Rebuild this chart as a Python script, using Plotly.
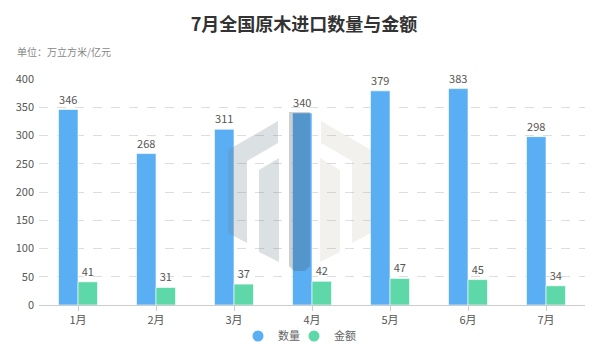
import plotly.graph_objects as go

months = ["1月", "2月", "3月", "4月", "5月", "6月", "7月"]
quantity = [346, 268, 311, 340, 379, 383, 298]
amount = [41, 31, 37, 42, 47, 45, 34]
series_names = ["数量", "金额"]
colors = ["#5aaef3", "#5fd8a9"]

# the page body has an 8px margin, so the figure is drawn 8px smaller and
# target window coordinates are shifted by -8
OFF = 8
W, H = 600 - OFF, 364 - OFF
L, R, T, B = 39 - OFF, 15, 79 - OFF, 59
PW, PH = W - L - R, H - T - B

def px(x, y):
    return (x - OFF - L) / PW, (H - B - (y - OFF)) / PH

def path(points):
    pts = [px(x, y) for x, y in points]
    return "M " + " L ".join(f"{a:.4f},{b:.4f}" for a, b in pts) + " Z"

fig = go.Figure()
for name, vals, c in zip(series_names, [quantity, amount], colors):
    fig.add_trace(go.Bar(
        x=months, y=vals, name=name,
        marker=dict(color=c, line=dict(color="rgba(255,255,255,0.6)", width=1)),
        text=[str(v) for v in vals], textposition="outside",
        textfont=dict(size=11, color="#555"), cliponaxis=False, showlegend=False,
    ))
for i, (name, c) in enumerate(zip(series_names, colors)):
    fig.add_trace(go.Scatter(x=[None], y=[None], mode="markers", name=name,
                             legend="legend" if i == 0 else "legend2",
                             marker=dict(symbol="circle", size=11, color=c)))

# watermark logo (decoration)
wm_left = "rgba(110,130,145,0.25)"
wm_right = "rgba(180,170,150,0.17)"
wm_mid = "rgba(70,85,100,0.28)"
shapes = []
left_outer = [(228, 150), (278, 121), (278, 143), (247, 161), (247, 243), (228, 233)]
left_inner = [(259, 170), (279, 158), (279, 262), (259, 252)]
mid = [(289, 112), (310, 112), (310, 266), (305, 271), (294, 271), (289, 266)]
for poly, col in [(left_outer, wm_left), (left_inner, wm_left), (mid, wm_mid),
                  ([(599 - x, y) for x, y in left_outer], wm_right),
                  ([(599 - x, y) for x, y in left_inner], wm_right)]:
    shapes.append(dict(type="path", xref="paper", yref="paper", path=path(poly),
                       fillcolor=col, line=dict(width=0), layer="above"))

sx, sy = px(15, 52)
leg_common = dict(orientation="h", xref="container", yref="container", xanchor="left",
                  yanchor="middle", y=1 - (336 - OFF) / H, font=dict(size=11, color="#666"),
                  itemwidth=30, bgcolor="rgba(0,0,0,0)")
fig.update_layout(
    width=W, height=H,
    paper_bgcolor="white", plot_bgcolor="white",
    font=dict(family="Noto Sans CJK SC, sans-serif", color="#666", size=11),
    title=dict(text="<b>7月全国原木进口数量与金额</b>", x=0.5, xanchor="center",
               xref="container", yref="container", y=1 - (25 - OFF) / H, yanchor="middle",
               font=dict(size=18, color="#333")),
    margin=dict(l=L, r=R, t=T, b=B, autoexpand=False),
    barmode="group", bargap=0.5, bargroupgap=0,
    legend=dict(x=(258 - OFF - 20) / W, **leg_common),
    legend2=dict(x=(314 - OFF - 20) / W, **leg_common),
    shapes=shapes,
    annotations=[dict(text="单位：万立方米/亿元", xref="paper", yref="paper", x=sx, y=sy,
                      xanchor="left", yanchor="middle", showarrow=False,
                      font=dict(size=10, color="#888"))],
)
fig.update_xaxes(showline=True, linecolor="#ccc", linewidth=1, ticks="outside", ticklen=5,
                 tickcolor="#ccc", tickfont=dict(size=11, color="#555"))
fig.update_yaxes(range=[0, 400], dtick=50, showgrid=True, gridcolor="#ddd", griddash="dash",
                 zeroline=False, ticklabelstandoff=4, tickfont=dict(size=11, color="#555"))

fig.write_html("out.html")
